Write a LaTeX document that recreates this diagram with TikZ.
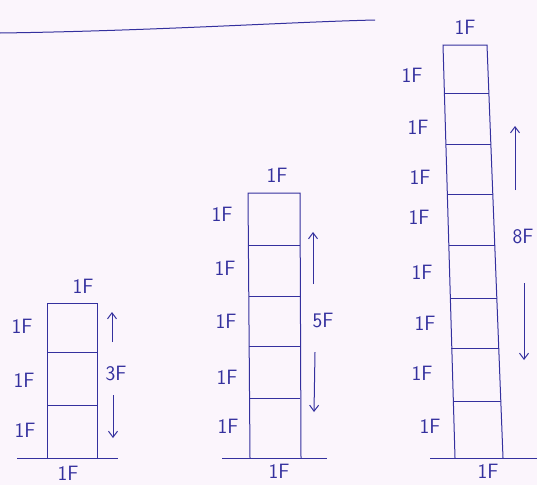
\documentclass[tikz,border=0pt]{standalone}
\usepackage{tikz}
\usetikzlibrary{arrows.meta}
\definecolor{inkblue}{RGB}{52,48,158}
\definecolor{paper}{RGB}{251,245,252}

\begin{document}
\begin{tikzpicture}[x=1pt,y=-1pt,
  ink/.style={draw=inkblue, line width=1pt},
  lbl/.style={text=inkblue, font=\sffamily\huge, inner sep=1pt},
  force/.style={ink, -{Straight Barb[length=6pt,width=9pt]}},
]
\fill[paper] (0,0) rectangle (537,485);
\useasboundingbox (0,0) rectangle (537,485);

% heading rule
\draw[ink] (0,33) .. controls (150,31) and (290,22) .. (375,20);

% three storey frame
\draw[ink] (17,458) -- (118,458);
\draw[ink] (47,458) -- (47,303) -- (97,303) -- (97,458);
\foreach \y in {352,405} \draw[ink] (47,\y) -- (97,\y);
\node[lbl] (t1) at (83,286) {1F};
\node[lbl] (l1a) at (22,326) {1F};
\node[lbl] (l1b) at (24,380) {1F};
\node[lbl] (l1c) at (25,430) {1F};
\node[lbl] (g1) at (68,473) {1F};
\node[lbl] (n1) at (116,373) {3F};
\coordinate (u1s) at (112,342);
\coordinate (u1e) at (112,312);
\coordinate (d1s) at (113,395);
\coordinate (d1e) at (113,438);
\draw[force] (u1s) -- (u1e);
\draw[force] (d1s) -- (d1e);

% five storey frame
\draw[ink] (222,458) -- (327,458);
\draw[ink] (250,458) -- (248,193) -- (300,193) -- (301,458);
\foreach \y in {245,296,346,398} \draw[ink] (249,\y) -- (300,\y);
\node[lbl] (t2) at (277,175) {1F};
\node[lbl] (l2a) at (222,214) {1F};
\node[lbl] (l2b) at (225,268) {1F};
\node[lbl] (l2c) at (226,321) {1F};
\node[lbl] (l2d) at (227,377) {1F};
\node[lbl] (l2e) at (228,426) {1F};
\node[lbl] (g2) at (279,471) {1F};
\node[lbl] (n2) at (323,320) {5F};
\coordinate (u2s) at (313,284);
\coordinate (u2e) at (313,232);
\coordinate (d2s) at (315,352);
\coordinate (d2e) at (314,412);
\draw[force] (u2s) -- (u2e);
\draw[force] (d2s) -- (d2e);

% eight storey frame
\draw[ink] (430,458) -- (537,458);
\draw[ink] (455,458) -- (443,45) -- (487,45) -- (503,458);
\foreach \y/\xl/\xr in {93/444/489,144/446/491,194/447/493,245/449/495,
  298/450/497,348/451/499,401/453/501}
  \draw[ink] (\xl,\y) -- (\xr,\y);
\node[lbl] (t3) at (465,27) {1F};
\node[lbl] (l3a) at (412,75) {1F};
\node[lbl] (l3b) at (418,127) {1F};
\node[lbl] (l3c) at (420,177) {1F};
\node[lbl] (l3d) at (419,217) {1F};
\node[lbl] (l3e) at (422,272) {1F};
\node[lbl] (l3f) at (425,323) {1F};
\node[lbl] (l3g) at (422,373) {1F};
\node[lbl] (l3h) at (430,426) {1F};
\node[lbl] (g3) at (488,471) {1F};
\node[lbl] (n3) at (523,236) {8F};
\coordinate (u3s) at (515,190);
\coordinate (u3e) at (515,126);
\coordinate (d3s) at (524,283);
\coordinate (d3e) at (524,360);
\draw[force] (u3s) -- (u3e);
\draw[force] (d3s) -- (d3e);
\end{tikzpicture}
\end{document}
